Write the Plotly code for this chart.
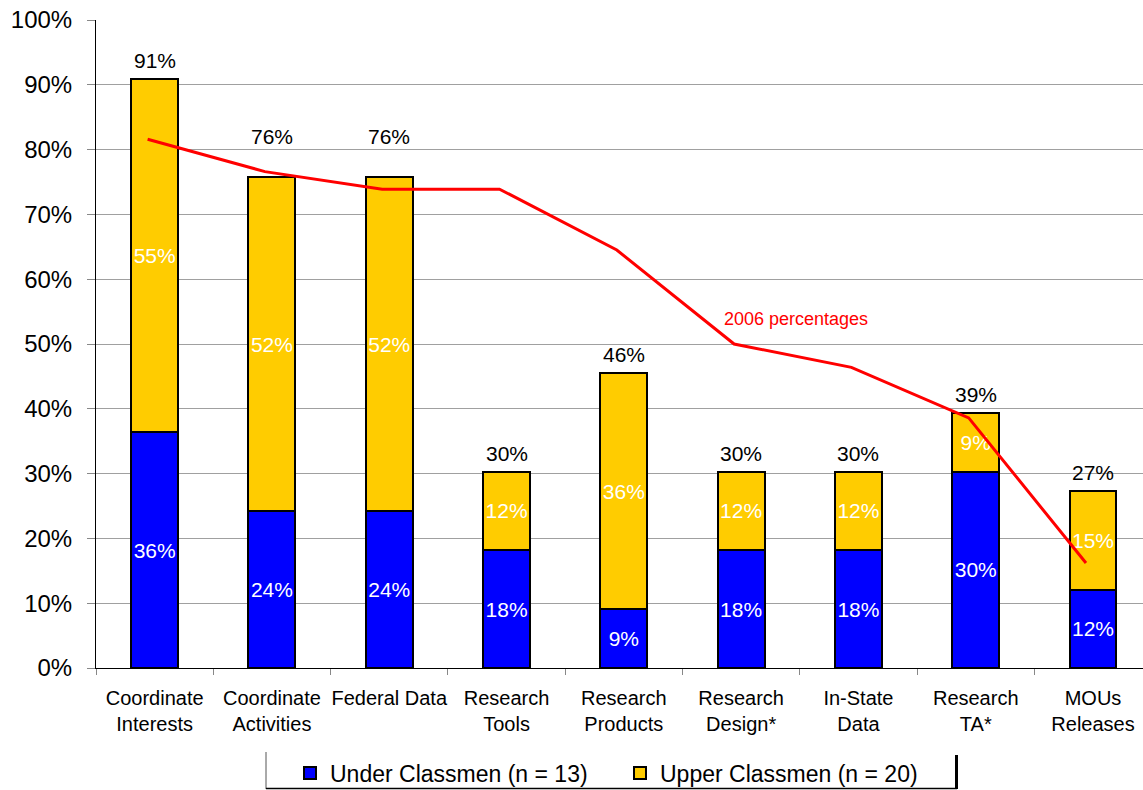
import plotly.graph_objects as go

categories = ["Coordinate<br>Interests", "Coordinate<br>Activities", "Federal Data",
              "Research<br>Tools", "Research<br>Products", "Research<br>Design*",
              "In-State<br>Data", "Research<br>TA*", "MOUs<br>Releases"]
under = [36.4, 24.2, 24.2, 18.2, 9.1, 18.2, 18.2, 30.3, 12.1]
upper = [54.5, 51.5, 51.5, 12.1, 36.4, 12.1, 12.1, 9.1, 15.2]
total_labels = ["91%", "76%", "76%", "30%", "46%", "30%", "30%", "39%", "27%"]
# extra lift (px) of total labels that sit clear of the 2006 line
total_label_lift = [0, 22, 22, 0, 0, 0, 0, 0, 0]
pct_2006 = [81.6, 76.6, 73.9, 73.9, 64.5, 50.0, 46.4, 38.6, 16.2]
y_ticks = list(range(0, 101, 10))

FONT = "Arial, 'Liberation Sans', sans-serif"
XMAX = 8.426

fig = go.Figure()
fig.add_trace(go.Bar(
    x=categories, y=under, name="Under Classmen (n = 13)",
    marker=dict(color="#0000FF", line=dict(color="black", width=2)),
    texttemplate="%{y:.0f}%", textposition="inside", insidetextanchor="middle",
    textangle=0, constraintext="none",
    textfont=dict(color="white", size=21, family=FONT), width=0.4,
    hoverinfo="skip"))
fig.add_trace(go.Bar(
    x=categories, y=upper, name="Upper Classmen (n = 20)",
    marker=dict(color="#FFCC00", line=dict(color="black", width=2)),
    texttemplate="%{y:.0f}%", textposition="inside", insidetextanchor="middle",
    textangle=0, constraintext="none",
    textfont=dict(color="white", size=21, family=FONT), width=0.4,
    hoverinfo="skip"))

# 2006 percentages line on an overlaying numeric axis
fig.add_trace(go.Scatter(
    x=[i - 0.06 for i in range(len(pct_2006))], y=pct_2006, xaxis="x2",
    mode="lines", line=dict(color="#FF0000", width=3), showlegend=False,
    hoverinfo="skip"))

annotations = []
for cat, u, p, lab, lift in zip(categories, under, upper, total_labels, total_label_lift):
    annotations.append(dict(x=cat, y=u + p, text=lab, showarrow=False,
                            yanchor="bottom", yshift=5 + lift,
                            font=dict(size=21, color="black", family=FONT)))
annotations.append(dict(x=5.464, y=53.8, xref="x2", yref="y", text="2006 percentages",
                        showarrow=False, font=dict(size=18, color="#FF0000", family=FONT)))

# legend frame (partial box as in reference)
def px_x(v):
    return (v - 96) / 1047.0

def px_y(v):
    return (668 - v) / 648.0

shapes = [
    dict(type="line", xref="paper", yref="paper", x0=px_x(266), x1=px_x(266),
         y0=px_y(752), y1=px_y(789), line=dict(color="#555555", width=1)),
    dict(type="line", xref="paper", yref="paper", x0=px_x(266), x1=px_x(957),
         y0=px_y(788.5), y1=px_y(788.5), line=dict(color="black", width=1.5)),
    dict(type="line", xref="paper", yref="paper", x0=px_x(956.5), x1=px_x(956.5),
         y0=px_y(755), y1=px_y(789), line=dict(color="black", width=3)),
]

fig.update_layout(
    width=1143, height=790,
    margin=dict(l=96, r=0, t=20, b=122, autoexpand=False),
    barmode="stack",
    plot_bgcolor="white", paper_bgcolor="white",
    font=dict(family=FONT, color="black"),
    uniformtext=dict(minsize=21, mode="show"),
    showlegend=True,
    legend=dict(orientation="h", x=px_x(290), xanchor="left",
                yref="container", y=1 - 773 / 790, yanchor="middle",
                font=dict(size=23, family=FONT), entrywidth=285, entrywidthmode="pixels",
                bgcolor="rgba(0,0,0,0)", traceorder="normal"),
    xaxis=dict(type="category", range=[-0.5, XMAX], tickson="boundaries", ticks="outside",
               ticklen=6, tickcolor="#888888", showline=True, linecolor="black", linewidth=1,
               showgrid=False, tickangle=0, tickfont=dict(size=20, family=FONT),
               ticklabelstandoff=12, automargin=False, fixedrange=True),
    xaxis2=dict(overlaying="x", range=[-0.5, XMAX], visible=False, fixedrange=True),
    yaxis=dict(range=[0, 100], tickvals=y_ticks, ticktext=[f"{v}%" for v in y_ticks],
               ticks="outside", ticklen=8, tickcolor="#888888", showline=True,
               linecolor="black", linewidth=1, showgrid=True, gridcolor="#A0A0A0",
               gridwidth=1, tickfont=dict(size=24, family=FONT), ticklabelstandoff=10,
               zeroline=False, automargin=False, fixedrange=True),
    annotations=annotations,
    shapes=shapes,
)

fig.write_html("out.html", config={"displayModeBar": False})
